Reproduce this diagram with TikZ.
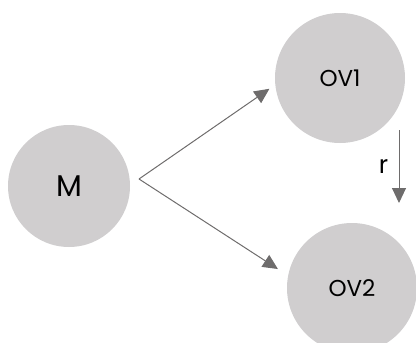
\documentclass[tikz,border=0pt]{standalone}
\usepackage{fontspec}
\setmainfont{Poppins}
\usetikzlibrary{arrows.meta,positioning}
\definecolor{ballgray}{RGB}{208,206,207}
\definecolor{arrowgray}{RGB}{110,108,108}
\tikzset{
    ball/.style={circle,fill=ballgray,inner sep=0pt,minimum size=#1},
    link/.style={draw=arrowgray,line width=1pt,-{Triangle[length=15pt,width=14pt]},shorten >=#1},
  }

\begin{document}
\begin{tikzpicture}[x=1pt,y=1pt]
  %cadre de l'image
  \useasboundingbox (0,0) rectangle (416,-343);
  %les trois cercles
  \node[ball=122pt,font=\fontsize{30}{30}\selectfont](M) at (69,-186) {M};
  \node[ball=130pt,font=\fontsize{23}{23}\selectfont](OV1) at (340,-78) {OV1};
  \node[ball=130pt,font=\fontsize{23}{23}\selectfont](OV2) at (352,-288) {OV2};
  %depart commun des fleches
  \coordinate (fork) at (139,-179);
  \draw[link=7pt] (fork) -- (OV1.186);
  \draw[link=12pt] (fork) -- (OV2.169);
  %fleche r
  \coordinate (rtop) at (399,-130);
  \coordinate (rbot) at (399,-203);
  \draw[link=0pt] (rtop) -- (rbot) node[midway,left=7pt,font=\fontsize{25}{25}\selectfont]{r};
\end{tikzpicture}
\end{document}
